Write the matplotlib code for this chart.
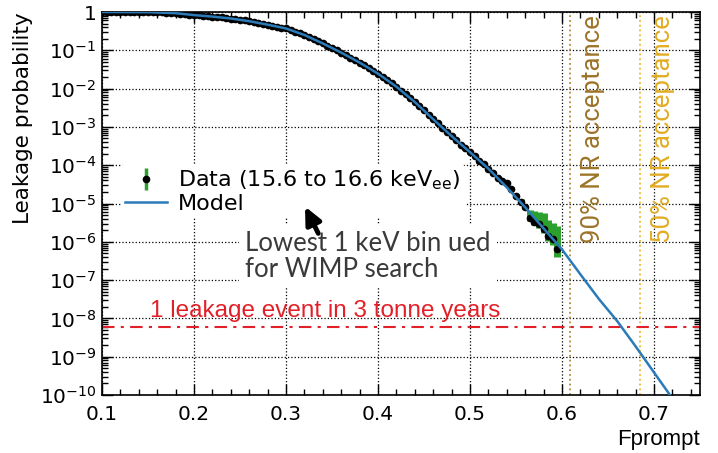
import numpy as np
import matplotlib
matplotlib.use('Agg')
import matplotlib.pyplot as plt
import matplotlib.transforms as mtransforms
from matplotlib.ticker import LogLocator, FuncFormatter, MultipleLocator, NullFormatter

# Fprompt bins of the lowest 1 keV energy slice
fprompt_bins = [
    0.100, 0.105, 0.110, 0.115, 0.120, 0.125, 0.130, 0.135, 0.140, 0.145,
    0.150, 0.155, 0.160, 0.165, 0.170, 0.175, 0.180, 0.185, 0.190, 0.195,
    0.200, 0.205, 0.210, 0.215, 0.220, 0.225, 0.230, 0.235, 0.240, 0.245,
    0.250, 0.255, 0.260, 0.265, 0.270, 0.275, 0.280, 0.285, 0.290, 0.295,
    0.300, 0.305, 0.310, 0.315, 0.320, 0.325, 0.330, 0.335, 0.340, 0.345,
    0.350, 0.355, 0.360, 0.365, 0.370, 0.375, 0.380, 0.385, 0.390, 0.395,
    0.400, 0.405, 0.410, 0.415, 0.420, 0.425, 0.430, 0.435, 0.440, 0.445,
    0.450, 0.455, 0.460, 0.465, 0.470, 0.475, 0.480, 0.485, 0.490, 0.495,
    0.500, 0.505, 0.510, 0.515, 0.520, 0.525, 0.530, 0.535, 0.540, 0.545,
    0.550, 0.555, 0.560, 0.565, 0.570, 0.575, 0.580, 0.585, 0.590, 0.595,
]
# log10 of the measured leakage probability
data_log_leak = [
    0.000, 0.000, 0.000, 0.000, 0.000, 0.000, 0.000, 0.000, 0.000, -0.002,
    -0.004, -0.006, -0.009, -0.013, -0.018, -0.024, -0.031, -0.041, -0.053, -0.066,
    -0.080, -0.090, -0.100, -0.110, -0.120, -0.130, -0.140, -0.155, -0.170, -0.190,
    -0.205, -0.220, -0.240, -0.260, -0.285, -0.310, -0.330, -0.355, -0.380, -0.405,
    -0.430, -0.470, -0.510, -0.555, -0.600, -0.655, -0.710, -0.765, -0.820, -0.880,
    -0.940, -1.000, -1.060, -1.125, -1.190, -1.255, -1.320, -1.390, -1.460, -1.535,
    -1.610, -1.690, -1.770, -1.860, -1.950, -2.050, -2.150, -2.250, -2.350, -2.460,
    -2.570, -2.680, -2.800, -2.910, -3.020, -3.130, -3.240, -3.350, -3.460, -3.560,
    -3.660, -3.770, -3.880, -3.980, -4.090, -4.200, -4.330, -4.400, -4.470, -4.620,
    -4.800, -4.950, -5.100, -5.380, -5.470, -5.530, -5.660, -5.850, -5.930, -6.200,
]
# statistical errors (in decades) of the last, low-statistics bins
tail_err_up = [0.03, 0.04, 0.06, 0.06, 0.07, 0.20, 0.27, 0.31, 0.41, 0.42, 0.43, 0.62]
tail_err_down = [0.02, 0.03, 0.04, 0.04, 0.05, 0.08, 0.10, 0.10, 0.12, 0.12, 0.15, 0.20]

# leakage model
model_fprompt = [0.10, 0.15, 0.18, 0.20, 0.22, 0.24, 0.26, 0.28, 0.30, 0.32,
                 0.34, 0.36, 0.38, 0.40, 0.42, 0.44, 0.46, 0.48, 0.50, 0.52,
                 0.54, 0.56, 0.58, 0.60, 0.62, 0.64, 0.66, 0.68, 0.70, 0.72]
model_log_leak = [0.0, -0.004, -0.031, -0.08, -0.12, -0.17, -0.24, -0.33, -0.43, -0.60,
                  -0.82, -1.06, -1.32, -1.61, -1.95, -2.35, -2.80, -3.24, -3.66, -4.09,
                  -4.58, -5.10, -5.65, -6.20, -6.85, -7.49, -8.07, -8.73, -9.41, -10.09]

nr90_cut = 0.609
nr50_cut = 0.685
one_event_level = 6e-9

plt.rcParams['font.family'] = ['DejaVu Sans']
plt.rcParams['mathtext.default'] = 'regular'

x = np.array(fprompt_bins)
logy = np.array(data_log_leak)
y = 10 ** logy
up = np.zeros(len(x))
dn = np.zeros(len(x))
up[-len(tail_err_up):] = tail_err_up
dn[-len(tail_err_down):] = tail_err_down
yerr = [y - 10 ** (logy - dn), 10 ** (logy + up) - y]

green = '#2ca02c'
blue = '#2b7bb9'
fig = plt.figure(figsize=(7.18, 4.53), dpi=100)
ax = fig.add_axes([102 / 718, 1 - 395 / 453, 598 / 718, 383 / 453])

ax.errorbar(x, y, yerr=yerr, fmt='o', ms=4.5, color='black', ecolor=green,
            elinewidth=5, capsize=0, zorder=3)
ax.plot(model_fprompt, 10 ** np.array(model_log_leak), color=blue, lw=1.8, zorder=4)

# legend proxies
h_data = ax.errorbar([], [], yerr=[], fmt='o', ms=4.5, color='black', ecolor=green,
                     elinewidth=2.5, capsize=0)
h_model, = ax.plot([], [], color=blue, lw=1.8)
leg = ax.legend([h_data, h_model], [r'Data (15.6 to 16.6 keV$_{ee}$)', 'Model'],
                loc='upper left', bbox_to_anchor=(0.031, 0.602), fontsize=16,
                frameon=True, facecolor='white', edgecolor='none', framealpha=1,
                borderaxespad=0, borderpad=0.2, labelspacing=0.05,
                handlelength=1.9, handletextpad=0.5)
leg.set_zorder(5)

ax.axvline(nr90_cut, color='#b08a35', ls=':', lw=1.3, zorder=2)
ax.axvline(nr50_cut, color='#e8b830', ls=':', lw=1.3, zorder=2)
trans = mtransforms.blended_transform_factory(ax.transData, ax.transAxes)
ax.text(0.634, 0.992, '90% NR acceptance', rotation=90, transform=trans,
        ha='center', va='top', color='#9c7428', fontsize=18.5, family='Roboto')
ax.text(0.7095, 0.992, '50% NR acceptance', rotation=90, transform=trans,
        ha='center', va='top', color='#e2ac22', fontsize=18.5, family='Roboto')

ax.axhline(one_event_level, color='#e3202a', lw=1.5, dashes=(6, 3, 1.5, 3), zorder=2)
ax.text(0.152, 1.1e-8, '1 leakage event in 3 tonne years', color='#e3202a',
        fontsize=17.5, va='baseline', family='Liberation Sans')

ax.annotate('', xy=(0.3207, 10 ** -5.08), xytext=(0.3351, 10 ** -5.78),
            arrowprops=dict(arrowstyle='-|>,head_width=0.4,head_length=0.85',
                            lw=3.5, color='black', mutation_scale=12,
                            shrinkA=0, shrinkB=0),
            zorder=6)
ax.text(0.2554, 10 ** -5.72, 'Lowest 1 keV bin ued\nfor WIMP search', color='#3a3a3a',
        fontsize=18.5, family='Lato', va='top', ha='left',
        linespacing=1.05, zorder=5,
        bbox=dict(facecolor='white', edgecolor='none', boxstyle='square,pad=0.25'))

ax.set_yscale('log')
ax.set_xlim(0.1, 0.75)
ax.set_ylim(1e-10, 1.0)

ax.xaxis.set_major_locator(MultipleLocator(0.1))
ax.xaxis.set_minor_locator(MultipleLocator(0.02))
ax.yaxis.set_major_locator(LogLocator(base=10, numticks=20))
ax.yaxis.set_minor_locator(LogLocator(base=10, subs=np.arange(2, 10), numticks=20))
ax.yaxis.set_minor_formatter(NullFormatter())
ax.yaxis.set_major_formatter(FuncFormatter(
    lambda v, p: '1' if abs(v - 1) < 1e-9 else r'$10^{%d}$' % round(np.log10(v))))
ax.xaxis.set_major_formatter(FuncFormatter(lambda v, p: '%.1f' % v))

ax.tick_params(which='both', direction='in', top=True, right=True, width=1)
ax.tick_params(which='major', length=8, labelsize=14.5)
ax.tick_params(which='minor', length=4)
ax.tick_params(axis='y', which='major', pad=4)
ax.tick_params(axis='x', which='major', pad=7)
ax.grid(True, which='major', ls=':', color='black', lw=0.9)
for s in ax.spines.values():
    s.set_linewidth(1.2)

ax.set_ylabel('Leakage probability', fontsize=15.5, loc='top')
ax.yaxis.set_label_coords(-0.115, 1.0)
ax.set_xlabel('Fprompt', fontsize=16, loc='right', family='Liberation Sans')

fig.savefig('out.png', dpi=100)
